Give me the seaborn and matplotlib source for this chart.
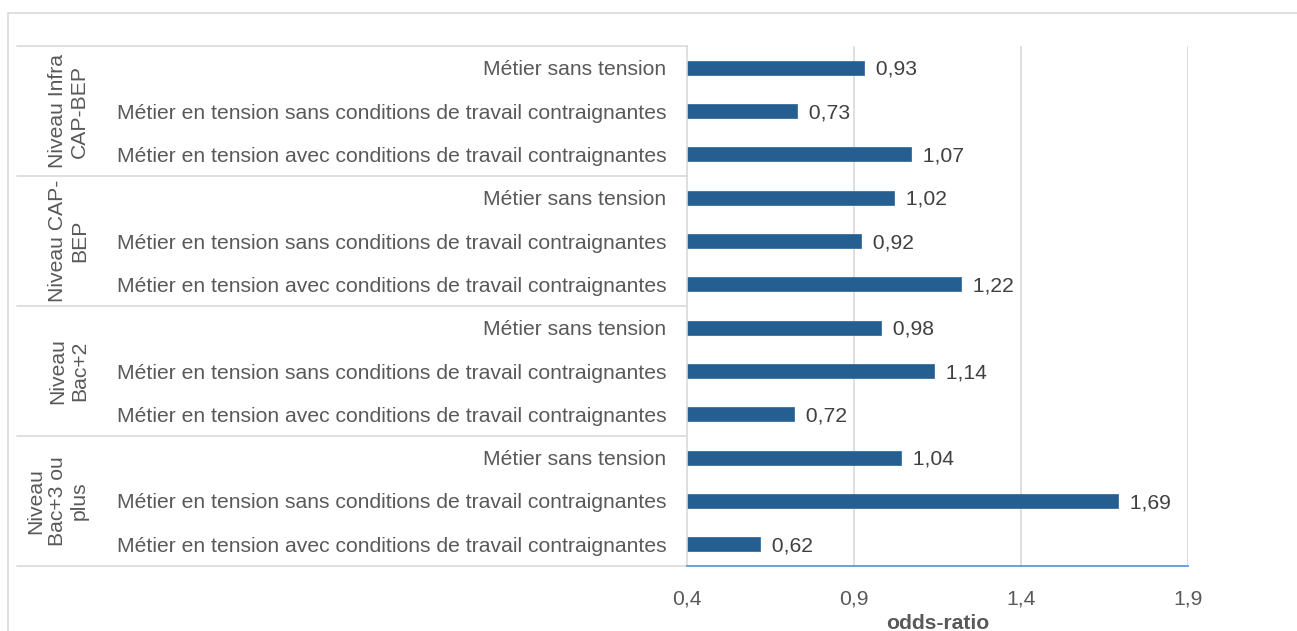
import matplotlib
matplotlib.use("Agg")
import matplotlib.pyplot as plt
import matplotlib.transforms as mtransforms
from matplotlib.patches import Rectangle
import seaborn as sns
import pandas as pd

groups = ["Niveau Infra\nCAP-BEP", "Niveau CAP-\nBEP", "Niveau\nBac+2", "Niveau\nBac+3 ou\nplus"]
categories = ["Métier sans tension",
              "Métier en tension sans conditions de travail contraignantes",
              "Métier en tension avec conditions de travail contraignantes"]
values = [0.93, 0.73, 1.07,
          1.02, 0.92, 1.22,
          0.98, 1.14, 0.72,
          1.04, 1.69, 0.62]
xticks = [0.4, 0.9, 1.4, 1.9]

rows = []
for gi, g in enumerate(groups):
    for ci, c in enumerate(categories):
        rows.append({"key": f"{gi}-{ci}", "label": c, "group": g, "value": values[gi * 3 + ci]})
df = pd.DataFrame(rows)

sns.set_theme(style="white")
plt.rcParams['font.family'] = ['Liberation Sans', 'DejaVu Sans']
TXT = "#595959"
BAR = "#255E91"
FS = 15.2

W, H = 1297, 631
fig = plt.figure(figsize=(W / 100, H / 100), dpi=100)
L, R, T, B = 687, 1188, 46, 566
ax = fig.add_axes([L / W, 1 - B / H, (R - L) / W, (B - T) / H])

sns.barplot(data=df, y="key", x="value", orient="h", color=BAR, width=0.33,
            edgecolor="#3A6F9E", linewidth=0.6, ax=ax, saturation=1)

ax.set_xlim(0.4, 1.9)
ax.set_ylim(len(df) - 0.5, -0.5)
ax.set_xticks(xticks)
ax.set_xticklabels([f"{v:.1f}".replace(".", ",") for v in xticks], fontsize=FS, color=TXT)
ax.set_yticks(range(len(df)))
ax.set_yticklabels(df["label"], fontsize=FS, color=TXT)
ax.tick_params(axis="y", length=0, pad=15)
ax.tick_params(axis="x", length=0, pad=17)
ax.set_ylabel("")
ax.set_xlabel("odds-ratio", fontsize=FS, fontweight="bold", color=TXT, labelpad=4)

for s in ["top", "right"]:
    ax.spines[s].set_visible(False)
ax.spines["left"].set_color("#D9D9D9")
ax.spines["left"].set_linewidth(1.2)
ax.spines["bottom"].set_color("#5B9BD5")
ax.spines["bottom"].set_linewidth(1.3)
for xv in xticks[1:]:
    ax.axvline(xv, color="#D9D9D9", lw=1.2, zorder=0)

for i, v in enumerate(df["value"]):
    ax.text(v, i + 0.04, "  " + f"{v:.2f}".replace(".", ","), va="center", ha="left",
            fontsize=FS, color="#404040")

# group separators and group labels
trans = mtransforms.blended_transform_factory(fig.transFigure, ax.transData)
for b in [-0.5, 2.5, 5.5, 8.5, 11.5]:
    ax.plot([17 / W, L / W], [b, b], transform=trans, color="#D9D9D9", lw=1.2, clip_on=False)
for gi, g in enumerate(groups):
    ax.text(89 / W, gi * 3 + 1, g, transform=trans, rotation=90, ha="right", va="center",
            multialignment="center", fontsize=FS, color=TXT, linespacing=1.18)

# outer frame
fig.patches.append(Rectangle((8 / W, -0.1), 1.2, 1 - 13 / H + 0.1, transform=fig.transFigure,
                             fill=False, edgecolor="#D9D9D9", lw=1.2))

fig.savefig("out.png", dpi=100)
